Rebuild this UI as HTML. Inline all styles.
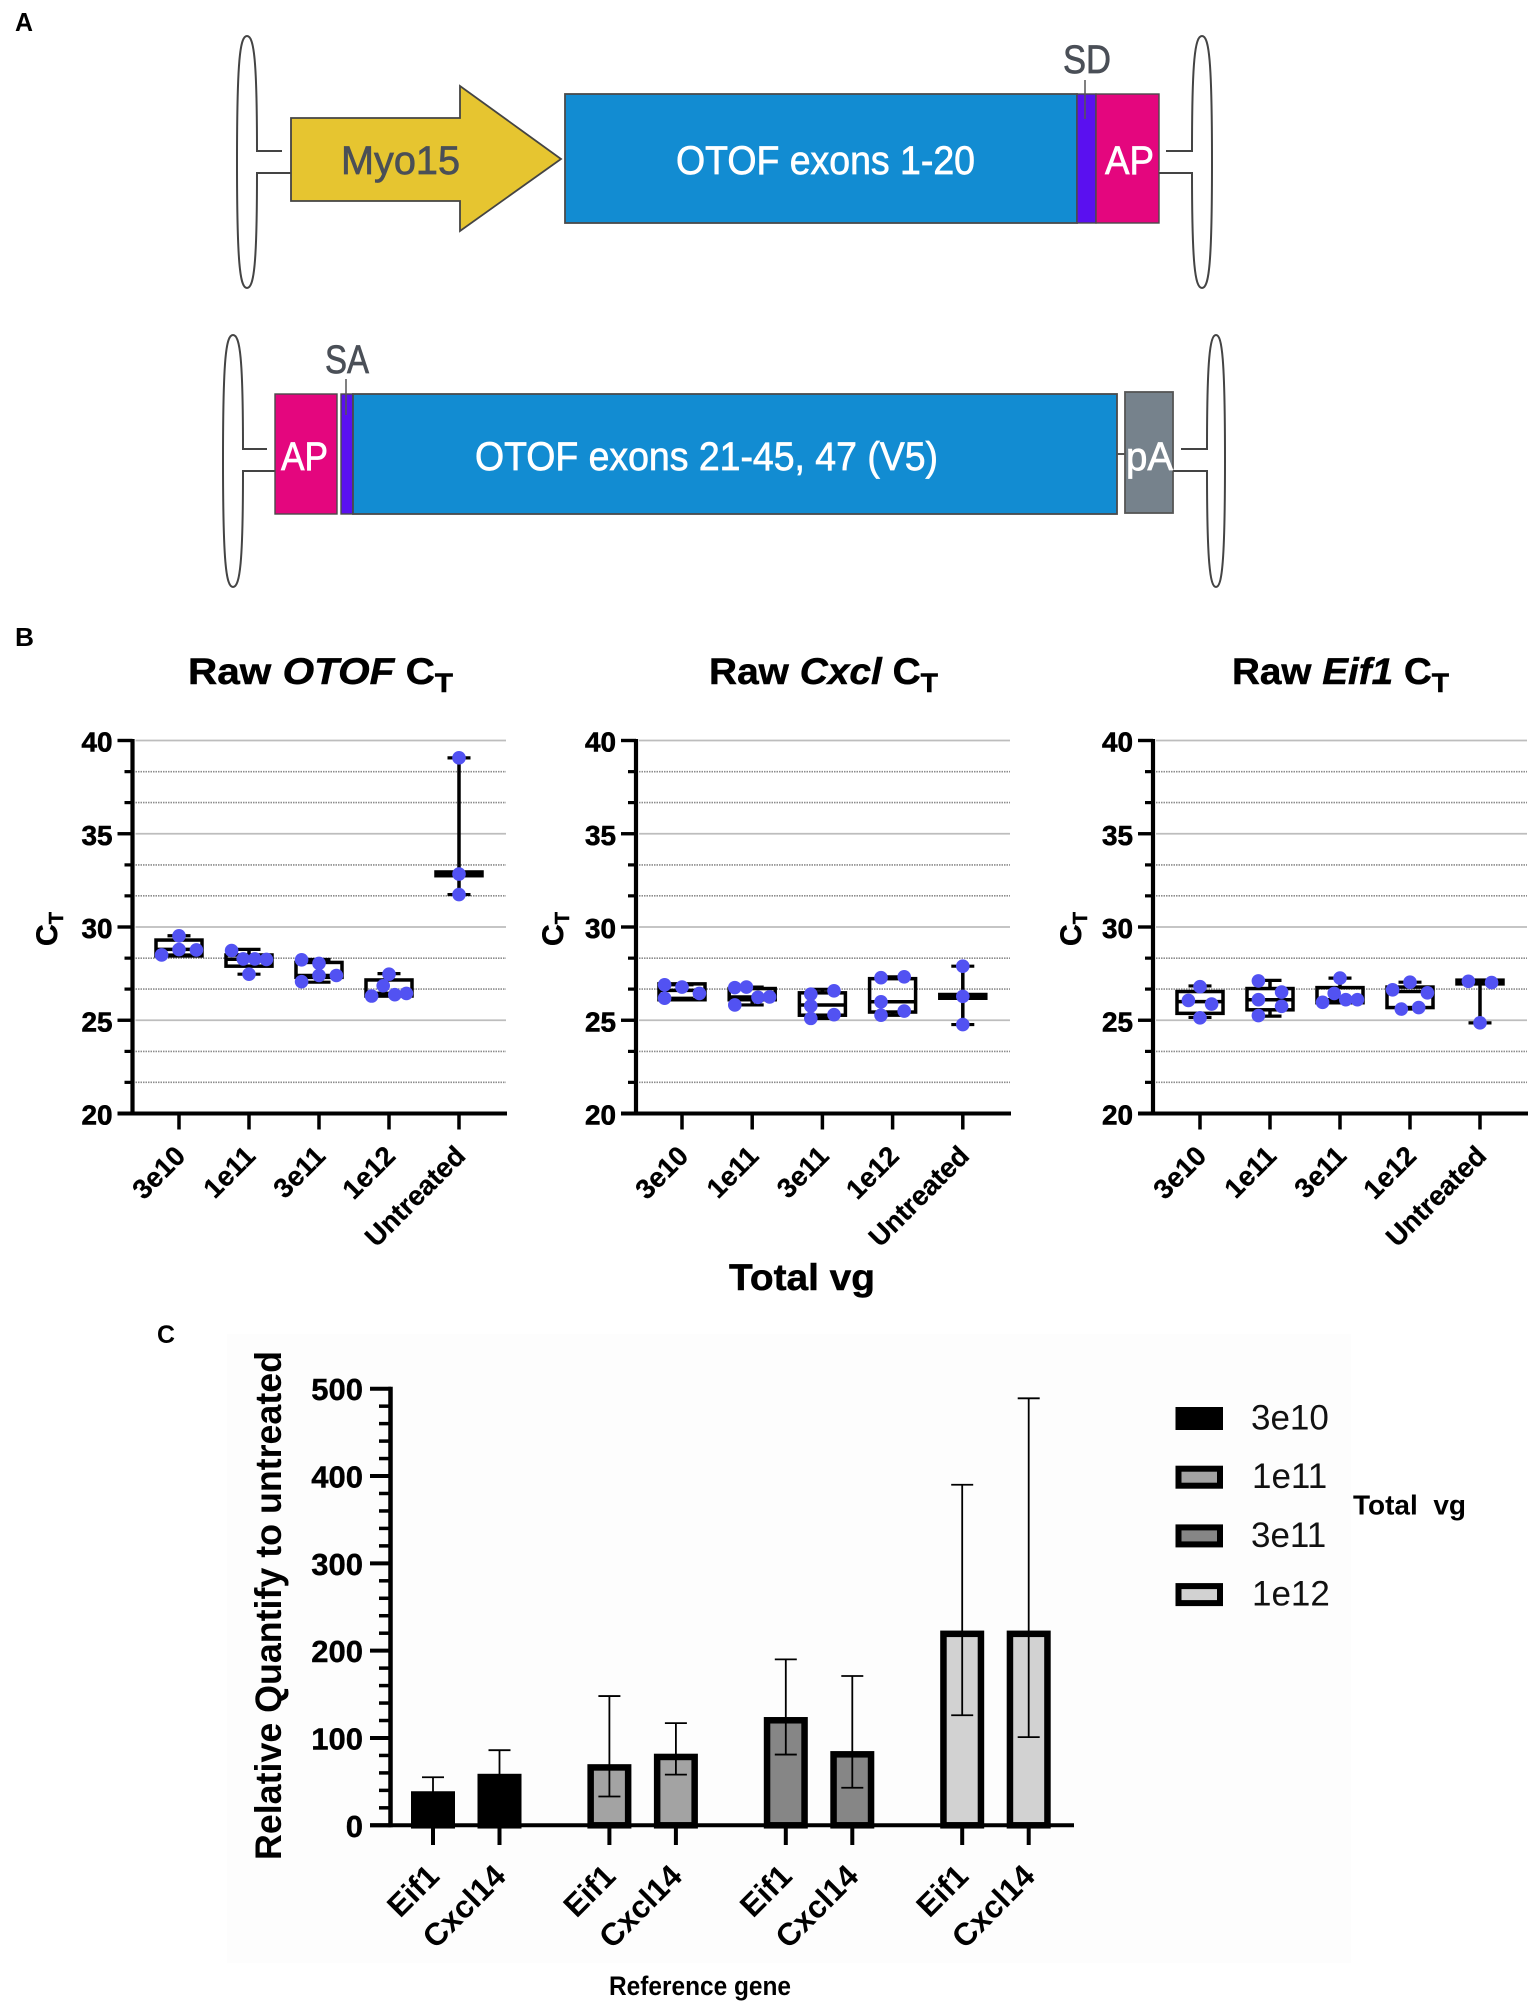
<!DOCTYPE html>
<html lang="en">
<head>
<meta charset="utf-8">
<title>OTOF dual vector qPCR figure</title>
<style>
html,body{margin:0;padding:0;background:#fff;}
svg{display:block;font-family:"Liberation Sans",sans-serif;}
.dia{font-family:"Liberation Sans",sans-serif;font-size:40px;stroke-width:.7;}
.dia-w{fill:#fff;stroke:#fff;}
.dia-g{fill:#4a4f57;stroke:#4a4f57;}
.heavy{stroke:#000;stroke-width:.5;}
</style>
</head>
<body>
<svg id="figure" xmlns="http://www.w3.org/2000/svg" width="1535" height="2007" viewBox="0 0 1535 2007">
<rect x="0" y="0" width="1535" height="2007" fill="#fff"/>

<!-- Panel A -->
<g id="panel-a">
<text x="15" y="31" font-size="26" font-weight="bold" textLength="18" lengthAdjust="spacingAndGlyphs">A</text>
<g stroke-linejoin="miter">
<path d="M282 151H257C257 60 254 36 247 36C240 36 237 60 237 162C237 264 240 288 247 288C254 288 257 264 257 173H291" fill="#fff" stroke="#444" stroke-width="2"/>
<polygon points="291,118 460,118 460,86 561,159 460,231 460,201 291,201" fill="#e6c530" stroke="#444" stroke-width="1.8"/>
<text class="dia dia-g" x="341" y="174" textLength="119" lengthAdjust="spacingAndGlyphs">Myo15</text>
<rect x="565" y="94" width="512" height="129" fill="#128cd2" stroke="#4a4a4a" stroke-width="1.8"/>
<text class="dia dia-w" x="676" y="174" textLength="299" lengthAdjust="spacingAndGlyphs">OTOF exons 1-20</text>
<rect x="1077" y="94" width="19" height="129" fill="#5a10f0" stroke="#4a4a4a" stroke-width="1.4"/>
<rect x="1096" y="94" width="63" height="129" fill="#e4067e" stroke="#4a4a4a" stroke-width="1.4"/>
<text class="dia dia-w" x="1105" y="174" textLength="49" lengthAdjust="spacingAndGlyphs">AP</text>
<text class="dia dia-g" x="1063" y="73" textLength="48" lengthAdjust="spacingAndGlyphs">SD</text>
<line x1="1085" y1="80" x2="1085" y2="119" stroke="#555" stroke-width="1.5"/>
<path d="M1166 151H1192C1192 60 1195 36 1202 36C1209 36 1212 60 1212 162C1212 264 1209 288 1202 288C1195 288 1192 264 1192 173H1159" fill="#fff" stroke="#444" stroke-width="2"/>
</g>
<g>
<path d="M267 449H243C243 358 240 335 233 335C226 335 223 358 223 460C223 562 226 587 233 587C240 587 243 562 243 471H275" fill="#fff" stroke="#444" stroke-width="2"/>
<rect x="275" y="394" width="62" height="120" fill="#e4067e" stroke="#4a4a4a" stroke-width="1.4"/>
<text class="dia dia-w" x="281" y="470" textLength="47" lengthAdjust="spacingAndGlyphs">AP</text>
<rect x="341" y="394" width="12" height="120" fill="#5a10f0" stroke="#4a4a4a" stroke-width="1.4"/>
<rect x="353" y="394" width="764" height="120" fill="#128cd2" stroke="#4a4a4a" stroke-width="1.8"/>
<text class="dia dia-w" x="475" y="470" textLength="463" lengthAdjust="spacingAndGlyphs">OTOF exons 21-45, 47 (V5)</text>
<rect x="1125" y="392" width="48" height="121" fill="#76828c" stroke="#555" stroke-width="1.8"/>
<text class="dia dia-w" x="1126" y="470" textLength="47" lengthAdjust="spacingAndGlyphs">pA</text>
<line x1="1117" y1="454" x2="1125" y2="454" stroke="#555" stroke-width="2"/>
<text class="dia dia-g" x="325" y="373" textLength="44" lengthAdjust="spacingAndGlyphs">SA</text>
<line x1="346" y1="379" x2="346" y2="415" stroke="#555" stroke-width="1.5"/>
<path d="M1181 449H1207C1207 358 1210 335 1216 335C1222 335 1225 358 1225 460C1225 562 1222 587 1216 587C1210 587 1207 562 1207 471H1173" fill="#fff" stroke="#444" stroke-width="2"/>
</g>
</g>

<!-- Panel B static text -->
<g id="panel-b">
<text x="15" y="646" font-size="26" font-weight="bold" textLength="19" lengthAdjust="spacingAndGlyphs">B</text>
<text class="heavy" x="188" y="684" font-size="37" font-weight="bold" textLength="265" lengthAdjust="spacingAndGlyphs">Raw <tspan font-style="italic">OTOF</tspan> C<tspan dy="8" font-size="27">T</tspan></text>
<text class="heavy" x="709" y="684" font-size="37" font-weight="bold" textLength="229" lengthAdjust="spacingAndGlyphs">Raw <tspan font-style="italic">Cxcl</tspan> C<tspan dy="8" font-size="27">T</tspan></text>
<text class="heavy" x="1232" y="684" font-size="37" font-weight="bold" textLength="217" lengthAdjust="spacingAndGlyphs">Raw <tspan font-style="italic">Eif1</tspan> C<tspan dy="8" font-size="27">T</tspan></text>
<text class="heavy" transform="translate(57 929) rotate(-90)" text-anchor="middle" font-size="30" font-weight="bold">C<tspan dy="6" font-size="20">T</tspan></text>
<text class="heavy" transform="translate(563 929) rotate(-90)" text-anchor="middle" font-size="30" font-weight="bold">C<tspan dy="6" font-size="20">T</tspan></text>
<text class="heavy" transform="translate(1081 929) rotate(-90)" text-anchor="middle" font-size="30" font-weight="bold">C<tspan dy="6" font-size="20">T</tspan></text>
<text class="heavy" x="729" y="1290" font-size="37" font-weight="bold" textLength="146" lengthAdjust="spacingAndGlyphs">Total vg</text>
<g id="charts-b"></g>
</g>

<!-- Panel C static text -->
<g id="panel-c">
<rect x="227" y="1334" width="1124" height="629" fill="#fdfdfd"/>
<text x="157" y="1343" font-size="25" font-weight="bold" textLength="18" lengthAdjust="spacingAndGlyphs">C</text>
<text transform="translate(281 1605.5) rotate(-90)" text-anchor="middle" font-size="37" font-weight="bold" textLength="509" lengthAdjust="spacingAndGlyphs">Relative Quantify to untreated</text>
<text x="609" y="1995" font-size="27" font-weight="bold" textLength="182" lengthAdjust="spacingAndGlyphs">Reference gene</text>
<text x="1353" y="1514.5" font-size="28" font-weight="bold" textLength="113" lengthAdjust="spacingAndGlyphs" style="white-space:pre">Total  vg</text>
<g id="chart-c"></g>
</g>
</svg>

<script>
// ---- Panel B data (CT values) ----
const doseCategories = ['3e10', '1e11', '3e11', '1e12', 'Untreated'];
const ctTicks = [20, 25, 30, 35, 40];
const ctMinorTicks = [21.67, 23.33, 26.67, 28.33, 31.67, 33.33, 36.67, 38.33];

const otofPoints = [
  [28.5, 29.53, 28.79, 28.77],
  [28.74, 28.29, 28.29, 28.26, 27.47],
  [28.24, 28.05, 27.4, 27.4, 27.07],
  [27.47, 26.85, 26.3, 26.37, 26.44],
  [39.07, 32.84, 31.74]
];
const otofSwarmRank = [
  [-3, 0, 0, 3],
  [-3, -1, 1, 3, 0],
  [-3, 0, 0, 3, -3],
  [0, -1, -3, 1, 3],
  [0, 0, 0]
];
const otofQ1 = [28.45, 27.9, 27.3, 26.3, 32.75];
const otofMedian = [28.8, 28.27, 27.4, 26.44, 32.84];
const otofQ3 = [29.3, 28.5, 28.1, 27.16, 32.95];
const otofLow = [28.5, 27.47, 27.04, 26.3, 31.74];
const otofHigh = [29.53, 28.8, 28.26, 27.5, 39.07];

const cxclPoints = [
  [26.9, 26.78, 26.18, 26.44],
  [26.75, 26.78, 26.23, 26.25, 25.82],
  [26.4, 26.58, 25.77, 25.3, 25.1],
  [27.28, 27.33, 25.99, 25.27, 25.49],
  [27.9, 26.28, 24.77]
];
const cxclSwarmRank = [
  [-3, 0, -3, 3],
  [-3, -1, 1, 3, -3],
  [-2, 2, -2, 2, -2],
  [-2, 2, -2, -2, 2],
  [0, 0, 0]
];
const cxclQ1 = [26.1, 26.1, 25.27, 25.44, 26.18];
const cxclMedian = [26.6, 26.25, 25.82, 25.99, 26.28];
const cxclQ3 = [26.95, 26.7, 26.47, 27.23, 26.38];
const cxclLow = [26.18, 25.82, 25.1, 25.27, 24.77];
const cxclHigh = [26.9, 26.78, 26.66, 27.33, 27.9];

const eif1Points = [
  [26.8, 26.06, 25.87, 25.13],
  [27.11, 26.51, 26.1, 25.75, 25.25],
  [27.26, 26.44, 25.96, 26.1, 26.1],
  [27.04, 26.63, 26.47, 25.6, 25.68],
  [27.09, 27.02, 24.86]
];
const eif1SwarmRank = [
  [0, -2, 2, 0],
  [-2, 2, -2, 2, -2],
  [0, -1, -3, 1, 3],
  [0, -3, 3, -1.5, 1.5],
  [-2, 2, 0]
];
const eif1Q1 = [25.37, 25.56, 25.94, 25.68, 26.95];
const eif1Median = [26.0, 26.1, 26.1, 26.54, 27.05];
const eif1Q3 = [26.54, 26.7, 26.75, 26.78, 27.15];
const eif1Low = [25.15, 25.22, 25.94, 25.6, 24.86];
const eif1High = [26.84, 27.14, 27.26, 27.04, 27.1];

// ---- Panel C data ----
const barGroups = ['3e10', '1e11', '3e11', '1e12'];
const barGenes = ['Eif1', 'Cxcl14'];
const rqTicks = [0, 100, 200, 300, 400, 500];
const rqMinorTicks = [20, 40, 60, 80, 120, 140, 160, 180, 220, 240, 260, 280, 320, 340, 360, 380, 420, 440, 460, 480];
const eif1Means = [39, 70, 124, 223];
const eif1Upper = [55, 148, 190, 390];
const eif1Lower = [25, 33, 81, 126];
const cxcl14Means = [59, 82, 85, 223];
const cxcl14Upper = [86, 117, 171, 489];
const cxcl14Lower = [35, 58, 43, 101];
const groupFills = ['#000000', '#a3a3a3', '#868686', '#d2d2d2'];

// ---- Drawing helpers ----
const SVGNS = 'http://www.w3.org/2000/svg';
function add(parent, tag, attrs, text) {
  const node = document.createElementNS(SVGNS, tag);
  for (const key in attrs) node.setAttribute(key, attrs[key]);
  if (text !== undefined) node.textContent = text;
  parent.appendChild(node);
  return node;
}
function ctY(value) { return 1113.5 - (value - 20) * (373 / 20); }

function drawBoxChart(key, axisX, axisEnd, firstTick, tickStep, rankUnit, points, ranks, q1, median, q3, low, high) {
  const root = document.getElementById('charts-b');
  const chart = add(root, 'g', {});
  
  
  const catX = function (i) { return firstTick + i * tickStep; };

  ctMinorTicks.forEach(function (v) {
    const grid = add(chart, 'line', { x1: axisX + 3, x2: axisEnd - 1, y1: ctY(v), y2: ctY(v), stroke: '#8c8c8c', 'stroke-width': 1.6, 'stroke-dasharray': '1.5 1' });
    
    
    const tick = add(chart, 'line', { x1: axisX - 8, x2: axisX, y1: ctY(v), y2: ctY(v), stroke: '#000', 'stroke-width': 3.2 });
    
    
  });
  ctTicks.forEach(function (v) {
    if (v > 20) {
      const grid = add(chart, 'line', { x1: axisX + 3, x2: axisEnd - 1, y1: ctY(v), y2: ctY(v), stroke: '#bdbdbd', 'stroke-width': 1.8 });
      
      
    }
    const tick = add(chart, 'line', { x1: axisX - 15, x2: axisX, y1: ctY(v), y2: ctY(v), stroke: '#000', 'stroke-width': 3.4 });
    
    
    const label = add(chart, 'text', { x: axisX - 20, y: ctY(v) + 11, 'text-anchor': 'end', 'font-size': 28, 'font-weight': 'bold', stroke: '#000', 'stroke-width': 0.6, textLength: 31, lengthAdjust: 'spacingAndGlyphs' }, String(v));
    
    
  });

  doseCategories.forEach(function (name, i) {
    const x = catX(i);
    const group = add(chart, 'g', {});
    
    
    const box = add(group, 'rect', { x: x - 23, y: ctY(q3[i]), width: 46, height: ctY(q1[i]) - ctY(q3[i]), fill: 'none', stroke: '#000', 'stroke-width': 3.5 });
    
    
    const med = add(group, 'line', { x1: x - 23, x2: x + 23, y1: ctY(median[i]), y2: ctY(median[i]), stroke: '#000', 'stroke-width': 3.5 });
    
    
    const whiskerUp = add(group, 'line', { x1: x, x2: x, y1: ctY(high[i]), y2: ctY(q3[i]), stroke: '#000', 'stroke-width': 3.5 });
    
    
    const whiskerDown = add(group, 'line', { x1: x, x2: x, y1: ctY(q1[i]), y2: ctY(low[i]), stroke: '#000', 'stroke-width': 3.5 });
    
    
    const capUp = add(group, 'line', { x1: x - 11.5, x2: x + 11.5, y1: ctY(high[i]), y2: ctY(high[i]), stroke: '#000', 'stroke-width': 3.2 });
    
    
    const capDown = add(group, 'line', { x1: x - 11.5, x2: x + 11.5, y1: ctY(low[i]), y2: ctY(low[i]), stroke: '#000', 'stroke-width': 3.2 });
    
    
    points[i].forEach(function (value, j) {
      const dot = add(group, 'circle', { cx: x + ranks[i][j] * rankUnit, cy: ctY(value), r: 6.8, fill: '#5252f2' });
      
      
    });
    const tick = add(chart, 'line', { x1: x, x2: x, y1: 1113.5, y2: 1129.5, stroke: '#000', 'stroke-width': 3.5 });
    
    
    const label = add(chart, 'text', { transform: 'translate(' + (x + 8) + ' 1157.5) rotate(-45)', 'text-anchor': 'end', 'font-size': 27.5, 'font-weight': 'bold', stroke: '#000', 'stroke-width': 0.3 }, name);
    
    
  });

  const yAxis = add(chart, 'line', { x1: axisX, x2: axisX, y1: 739, y2: 1115.5, stroke: '#000', 'stroke-width': 4.2 });
  
  
  const xAxis = add(chart, 'line', { x1: axisX - 15, x2: axisEnd, y1: 1113.5, y2: 1113.5, stroke: '#000', 'stroke-width': 4 });
  
  
}

drawBoxChart('otof', 132.5, 507, 179, 70, 5.8, otofPoints, otofSwarmRank, otofQ1, otofMedian, otofQ3, otofLow, otofHigh);
drawBoxChart('cxcl', 636, 1011, 682, 70.2, 5.8, cxclPoints, cxclSwarmRank, cxclQ1, cxclMedian, cxclQ3, cxclLow, cxclHigh);
drawBoxChart('eif1', 1153, 1528, 1200, 70, 5.8, eif1Points, eif1SwarmRank, eif1Q1, eif1Median, eif1Q3, eif1Low, eif1High);

// ---- Panel C ----
function rqY(value) { return 1825.3 - value * (436.6 / 500); }
function barX(groupIndex, geneIndex) { return 433 + groupIndex * 176.4 + geneIndex * 66.5; }

function drawBarChart() {
  const chart = document.getElementById('chart-c');
  const means = [eif1Means, cxcl14Means];
  const uppers = [eif1Upper, cxcl14Upper];
  const lowers = [eif1Lower, cxcl14Lower];

  rqMinorTicks.forEach(function (v) {
    const tick = add(chart, 'line', { x1: 379, x2: 391, y1: rqY(v), y2: rqY(v), stroke: '#000', 'stroke-width': 3.5 });
    
    
  });
  rqTicks.forEach(function (v) {
    const tick = add(chart, 'line', { x1: 370, x2: 391, y1: rqY(v), y2: rqY(v), stroke: '#000', 'stroke-width': 4 });
    
    
    const label = add(chart, 'text', { x: 363, y: rqY(v) + 11.5, 'text-anchor': 'end', 'font-size': 31, 'font-weight': 'bold', stroke: '#000', 'stroke-width': 0.4 }, String(v));
    
    
  });

  barGroups.forEach(function (group, g) {
    barGenes.forEach(function (gene, k) {
      const x = barX(g, k);
      const bar = add(chart, 'rect', { x: x - 18.75, y: rqY(means[k][g]) + 3.25, width: 37.5, height: rqY(0) - rqY(means[k][g]) - 3.25, fill: groupFills[g], stroke: '#000', 'stroke-width': 6.5 });
      
      
      const err = add(chart, 'line', { x1: x, x2: x, y1: rqY(uppers[k][g]), y2: rqY(lowers[k][g]), stroke: '#000', 'stroke-width': 1.8 });
      
      
      const capUp = add(chart, 'line', { x1: x - 11, x2: x + 11, y1: rqY(uppers[k][g]), y2: rqY(uppers[k][g]), stroke: '#000', 'stroke-width': 1.8 });
      
      
      const capDown = add(chart, 'line', { x1: x - 11, x2: x + 11, y1: rqY(lowers[k][g]), y2: rqY(lowers[k][g]), stroke: '#000', 'stroke-width': 1.8 });
      
      
      const tick = add(chart, 'line', { x1: x, x2: x, y1: 1825.3, y2: 1845, stroke: '#000', 'stroke-width': 4 });
      
      
      const label = add(chart, 'text', { transform: 'translate(' + (x + 8) + ' 1878) rotate(-45)', 'text-anchor': 'end', 'font-size': 31.5, 'font-weight': 'bold' }, gene);
      
      
    });

    const legendTop = 1407 + g * 58.7;
    const swatch = add(chart, 'rect', { x: 1178.5, y: legendTop + 3, width: 41.5, height: 17, fill: groupFills[g], stroke: '#000', 'stroke-width': 6 });
    
    
    const legendLabel = add(chart, 'text', { x: group.charAt(0) === '3' ? 1251 : 1252, y: legendTop + 22.5, 'font-size': 35, fill: '#111' }, group);
    
    
  });

  const yAxis = add(chart, 'line', { x1: 390.5, x2: 390.5, y1: 1386.7, y2: 1827.3, stroke: '#000', 'stroke-width': 4.5 });
  
  
  const xAxis = add(chart, 'line', { x1: 370, x2: 1074, y1: 1825.3, y2: 1825.3, stroke: '#000', 'stroke-width': 4 });
  
  
}
drawBarChart();
</script>
</body>
</html>
